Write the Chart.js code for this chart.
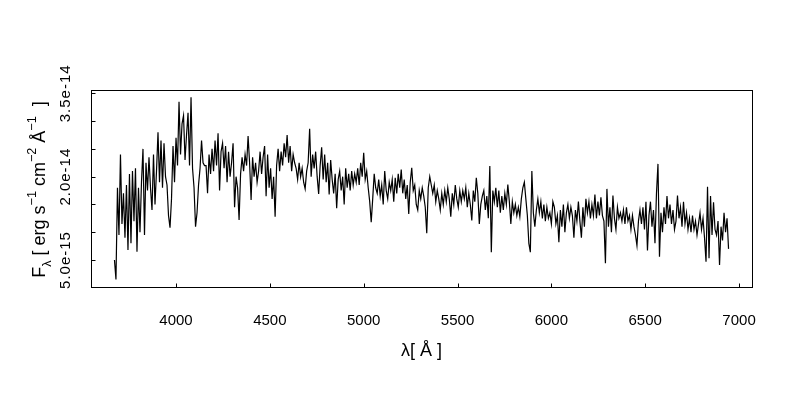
<!DOCTYPE html>
<html><head><meta charset="utf-8">
<script src="https://cdn.jsdelivr.net/npm/chart.js@4"></script>
<style>html,body{margin:0;padding:0;background:#fff;}#wrap{width:800px;height:400px;}</style>
</head><body><div id="wrap"><canvas id="c" width="800" height="400"></canvas></div>
<script>
// Wavelength grid (Angstrom)
const wavelength = [
3672,3680,3688,3696,3704,3712,3720,3728,3736,3744,3752,3760,3768,3776,3784,3792,3800,3808,3816,3824,
3832,3840,3848,3856,3864,3872,3880,3888,3896,3904,3912,3920,3928,3936,3944,3952,3960,3968,3976,3984,
3992,4000,4008,4016,4024,4032,4040,4048,4056,4064,4072,4080,4088,4096,4104,4112,4120,4128,4136,4144,
4152,
4160,4168,4176,4184,4192,4200,4208,4216,4224,4232,4240,4248,4256,4264,4272,4280,4288,4296,4304,4312,
4320,4328,4336,4344,4352,4360,4368,4376,4384,4392,4400,4408,4416,4424,4432,4440,4448,4456,4464,4472,
4480,4488,4496,4504,4512,4520,4528,4536,4544,4552,4560,4568,4576,4584,4592,4600,4608,4616,4624,4632,
4640,4648,4656,4664,4672,4680,4688,4696,4704,4712,4720,4728,4736,4744,4752,4760,4768,4776,4784,4792,
4800,4808,4816,4824,4832,4840,4848,4856,4864,4872,4880,4888,4896,4904,4912,4920,4928,4936,4944,4952,
4960,4968,4976,4984,4992,5000,5008,5016,5024,5032,5040,5048,5056,5064,5072,5080,5088,5096,5104,5112,
5120,5128,5136,
5144,5152,5160,5168,5176,5184,5192,5200,5208,5216,5224,5232,5240,5248,5256,5264,5272,5280,5288,5296,
5304,5312,5320,5328,5336,5344,5352,5360,5368,5376,5384,5392,5400,5408,5416,5424,5432,5440,5448,5456,
5464,5472,5480,5488,5496,5504,5512,5520,5528,5536,5544,5552,5560,5568,5576,5584,5592,5600,5608,5616,
5624,5632,5640,
5648,5656,5664,5672,5680,5688,5696,5704,5712,5720,5728,5736,5744,5752,5760,5768,5776,5784,5792,5800,
5808,5816,5824,5832,5840,5848,5856,5864,5872,5880,5888,5896,5904,5912,5920,5928,5936,5944,5952,5960,
5968,5976,5984,5992,6000,6008,6016,6024,6032,6040,6048,6056,6064,6072,6080,6088,6096,6104,6112,6120,
6128,6136,6144,
6152,6160,6168,6176,6184,6192,6200,6208,6216,6224,6232,6240,6248,6256,6264,6272,6280,6288,6296,6304,
6312,6320,6328,6336,6344,6352,6360,6368,6376,6384,6392,6400,6408,6416,6424,6432,6440,6448,6456,6464,
6472,6480,6488,6496,6504,6512,6520,6528,6536,6544,6552,6560,6568,6576,6584,6592,6600,6608,6616,6624,
6632,6640,6648,
6656,6664,6672,6680,6688,6696,6704,6712,6720,6728,6736,6744,6752,6760,6768,6776,6784,6792,6800,6808,
6816,6824,6832,6840,6848,6856,6864,6872,6880,6888,6896,6904,6912,6920,6928,6936,6944
];
// Flux in units of 1e-15 erg s^-1 cm^-2 A^-1
const flux_1e15 = [
5.0,1.5,18.0,9.5,24.0,11.5,17.0,9.0,18.5,6.8,20.5,8.0,21.0,12.0,21.5,6.5,18.0,10.0,19.0,25.0,
9.5,22.5,17.5,23.5,18.0,14.0,24.0,15.0,21.0,28.0,19.0,26.5,18.0,26.0,20.0,18.5,13.0,10.8,16.0,25.5,
19.0,27.0,22.0,33.5,24.0,29.5,31.0,23.0,27.5,31.5,22.0,34.3,21.5,18.0,11.0,13.5,18.5,21.5,26.5,22.5,
22.0,
22.0,17.0,24.0,20.5,25.0,21.0,26.5,22.0,27.8,17.5,24.5,26.0,21.5,25.5,19.0,24.5,20.0,22.5,26.0,14.5,
20.0,18.0,12.2,20.5,23.5,21.0,24.0,22.0,27.3,22.5,15.8,23.5,20.0,22.5,19.0,21.0,24.5,20.5,23.5,25.5,
16.5,24.0,18.0,21.5,16.0,20.0,12.8,22.0,25.0,21.0,24.5,22.0,26.0,23.5,27.5,22.5,25.5,21.0,24.0,22.5,
21.5,19.5,22.5,20.0,21.5,19.0,17.8,21.0,22.5,28.6,20.0,24.0,21.5,24.5,20.0,16.9,22.0,25.3,19.5,24.0,
19.0,22.5,16.8,23.0,19.5,17.0,20.5,14.3,19.5,21.0,17.5,20.0,15.0,21.5,18.0,20.5,17.5,21.0,18.5,20.5,
19.0,21.5,18.5,22.5,20.0,24.3,19.5,21.0,18.0,15.5,11.8,16.0,20.5,18.0,17.0,19.5,16.5,18.5,15.0,21.0,
17.5,16.0,19.0,
17.5,19.5,15.5,19.8,17.0,20.5,18.0,21.3,17.0,19.5,16.0,18.5,13.3,19.0,21.6,17.5,18.5,15.0,14.0,17.5,
16.0,18.0,16.5,14.5,9.8,18.0,20.0,18.5,17.0,18.5,15.5,17.5,16.0,14.0,17.0,15.0,17.5,15.5,18.0,16.0,
12.8,17.0,15.0,18.5,16.0,14.5,17.5,15.5,17.5,16.0,18.0,14.5,17.0,15.0,12.1,17.5,15.5,19.8,17.0,11.5,
15.0,16.5,17.5,
14.0,16.5,12.5,21.9,6.4,17.5,15.5,18.0,14.5,17.5,13.5,16.5,14.0,17.0,15.0,18.6,15.5,11.5,15.5,13.5,
15.0,13.0,14.5,12.8,16.0,18.0,19.0,16.0,13.0,8.0,6.4,21.0,13.5,11.0,14.0,16.0,13.5,15.5,12.5,15.0,
12.0,14.5,12.5,13.5,11.5,15.5,14.5,11.5,13.0,8.2,14.0,11.0,15.0,10.0,13.5,15.0,12.5,14.5,13.0,9.0,
14.0,12.0,15.5,
12.0,9.0,14.5,11.0,16.0,13.5,15.5,12.5,15.0,13.0,16.8,12.5,15.5,13.0,16.3,13.0,12.0,4.4,17.8,11.0,
14.5,10.0,16.6,12.5,10.5,14.5,12.5,13.5,12.0,14.0,11.5,14.5,12.0,13.0,10.5,13.0,11.0,9.5,7.6,12.0,
14.0,11.5,14.5,10.5,15.5,6.7,13.0,15.5,11.0,14.0,8.0,17.0,22.3,5.6,13.5,10.0,14.5,11.5,16.5,12.5,
15.0,11.5,14.0,
10.5,12.0,16.6,12.5,14.5,11.0,15.5,11.5,13.5,10.5,12.5,10.0,13.0,10.5,12.0,9.5,11.5,13.5,10.5,12.5,
9.0,4.7,18.2,5.3,16.5,9.5,15.4,10.5,9.5,12.0,4.1,11.0,8.5,13.5,10.0,12.5,7.0
];
const FLUX_UNIT = 1e-15;

const xTickValues = [4000, 4500, 5000, 5500, 6000, 6500, 7000];
const xTickLabels = ['4000', '4500', '5000', '5500', '6000', '6500', '7000'];
const yTickValues = [5e-15, 1e-14, 1.5e-14, 2e-14, 2.5e-14, 3e-14, 3.5e-14];
const yTickLabels = ['5.0e-15', '', '', '2.0e-14', '', '', '3.5e-14'];

const FONT = '"Liberation Sans", Arial, sans-serif';
const FS = 15;

function drawRich(ctx, parts, cx, cy, rot, size) {
  ctx.save();
  ctx.translate(cx, cy);
  ctx.rotate(rot);
  ctx.textAlign = 'left';
  ctx.textBaseline = 'alphabetic';
  ctx.fillStyle = '#000';
  let total = 0;
  const m = parts.map(p => {
    const s = size * (p.s || 1);
    ctx.font = s + 'px ' + FONT;
    const w = ctx.measureText(p.t).width;
    total += w;
    return { p, s, w };
  });
  let x = -total / 2;
  m.forEach(({ p, s, w }) => {
    ctx.font = s + 'px ' + FONT;
    ctx.fillText(p.t, x, (p.dy || 0) * size + size * 0.358);
    x += w;
  });
  ctx.restore();
}

const yTitleParts = [
  { t: 'F' }, { t: 'λ', s: 0.7, dy: 0.3 }, { t: ' [ erg s' }, { t: '−1', s: 0.7, dy: -0.5 },
  { t: ' cm' }, { t: '−2', s: 0.7, dy: -0.5 }, { t: ' Å' }, { t: '−1', s: 0.7, dy: -0.5 }, { t: '  ]' }
];
const xTitleParts = [{ t: 'λ' }, { t: '[ Å ]' }];

const TICK = 4;
const rAxes = {
  id: 'rAxes',
  beforeDraw(chart) {
    const c = chart.ctx;
    c.save(); c.fillStyle = '#fff'; c.fillRect(0, 0, chart.width, chart.height); c.restore();
  },
  afterDraw(chart) {
    const ctx = chart.ctx, a = chart.chartArea, xs = chart.scales.x, ys = chart.scales.y;
    const l = Math.round(a.left), t = Math.round(a.top), r = Math.round(a.right), b = Math.round(a.bottom);
    ctx.save();
    ctx.strokeStyle = '#000';
    ctx.lineWidth = 1;
    ctx.strokeRect(l + 0.5, t + 0.5, r - l, b - t);
    ctx.beginPath();
    xTickValues.forEach(v => {
      const px = Math.round(xs.getPixelForValue(v)) + 0.5;
      ctx.moveTo(px, b + 0.5); ctx.lineTo(px, b + 0.5 - TICK);
    });
    yTickValues.forEach(v => {
      const py = Math.round(ys.getPixelForValue(v)) + 0.5;
      ctx.moveTo(l + 0.5, py); ctx.lineTo(l + 0.5 + TICK, py);
    });
    ctx.stroke();
    ctx.fillStyle = '#000';
    ctx.font = FS + 'px ' + FONT;
    ctx.textAlign = 'center';
    ctx.textBaseline = 'middle';
    xTickValues.forEach((v, i) => {
      ctx.fillText(xTickLabels[i], xs.getPixelForValue(v), b + 34);
    });
    ctx.letterSpacing = '1px';
    yTickValues.forEach((v, i) => {
      if (!yTickLabels[i]) return;
      ctx.save();
      ctx.translate(l - 25, ys.getPixelForValue(v));
      ctx.rotate(-Math.PI / 2);
      ctx.fillText(yTickLabels[i], 0, 0);
      ctx.restore();
    });
    ctx.letterSpacing = '0px';
    ctx.restore();
    drawRich(ctx, xTitleParts, (l + r) / 2, b + 63, 0, 18);
    drawRich(ctx, yTitleParts, l - 52, (t + b) / 2 + 1, -Math.PI / 2, 18);
  }
};

new Chart(document.getElementById('c'), {
  type: 'line',
  data: {
    datasets: [{
      data: wavelength.map((w, i) => ({ x: w, y: flux_1e15[i] * FLUX_UNIT })),
      borderColor: '#000',
      borderWidth: 1.2,
      pointRadius: 0,
      tension: 0,
      fill: false
    }]
  },
  options: {
    responsive: false,
    animation: false,
    devicePixelRatio: 1,
    layout: { padding: { left: 91, top: 90, right: 48, bottom: 113 } },
    plugins: { legend: { display: false }, tooltip: { enabled: false } },
    scales: {
      x: { type: 'linear', display: false, min: 3547, max: 7069 },
      y: { type: 'linear', display: false, min: 0.14e-15, max: 35.6e-15 }
    }
  },
  plugins: [rAxes]
});
</script></body></html>
